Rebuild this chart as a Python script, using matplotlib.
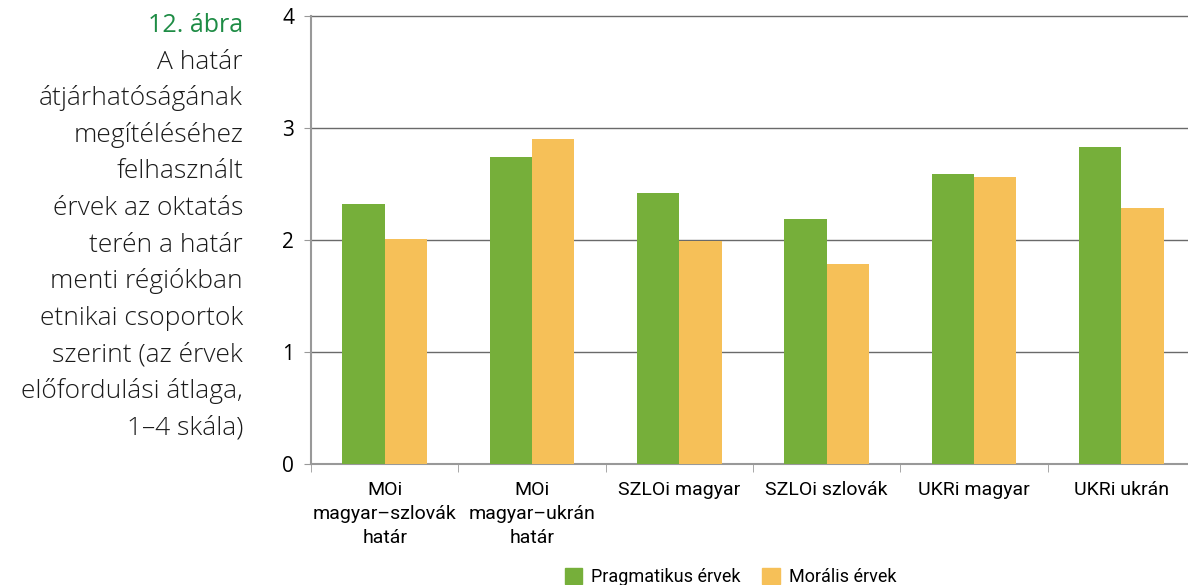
import matplotlib
matplotlib.use('Agg')
import matplotlib.pyplot as plt
import matplotlib.patches as mpatches
import numpy as np

categories = ['MOi\nmagyar–szlovák\nhatár', 'MOi\nmagyar–ukrán\nhatár', 'SZLOi magyar',
              'SZLOi szlovák', 'UKRi magyar', 'UKRi ukrán']
pragmatikus = [2.32, 2.74, 2.42, 2.19, 2.59, 2.83]
moralis = [2.01, 2.90, 1.99, 1.79, 2.56, 2.29]
series_names = ['Pragmatikus érvek', 'Morális érvek']
yticks = [0, 1, 2, 3, 4]

title_num = '12. ábra'
title_lines = ['A határ', 'átjárhatóságának', 'megítéléséhez', 'felhasznált',
               'érvek az oktatás', 'terén a határ', 'menti régiókban',
               'etnikai csoportok', 'szerint (az érvek', 'előfordulási átlaga,',
               '1–4 skála)']

green = '#76AF3A'
orange = '#F6C058'
label_font = ['Roboto', 'DejaVu Sans']
caption_font = ['Open Sans', 'DejaVu Sans']

fig = plt.figure(figsize=(11.88, 5.85), dpi=100)
# plot area runs a little past the right edge of the picture
ax = fig.add_axes([311 / 1188, 1 - 464 / 585, (1195 - 311) / 1188, (464 - 16) / 585])

x = np.arange(len(categories))
w = 0.288
ax.bar(x - w / 2, pragmatikus, width=w, color=green, zorder=3)
ax.bar(x + w / 2, moralis, width=w, color=orange, zorder=3)

ax.set_xlim(-0.5, len(categories) - 0.5)
ax.set_ylim(0, 4)
ax.set_yticks(yticks)
for t in yticks[1:]:
    ax.axhline(t, color='#6a6a6a', lw=1.0, zorder=1, clip_on=False)

ax.set_xticks(x)
ax.set_xticklabels(categories, family=label_font, fontsize=14, linespacing=1.45)
ax.set_xticks(np.arange(len(categories) + 1) - 0.5, minor=True)
ax.tick_params(axis='x', which='major', length=0, pad=12)
ax.tick_params(axis='x', which='minor', length=6, color='#999999', direction='out')
ax.tick_params(axis='y', length=5, color='#999999', pad=7)
for lab in ax.get_yticklabels():
    lab.set_family(caption_font)
    lab.set_fontsize(15)

for s in ['top', 'right']:
    ax.spines[s].set_visible(False)
ax.spines['left'].set_color('#999999')
ax.spines['bottom'].set_color('#999999')
ax.spines['left'].set_linewidth(1.5)
ax.spines['bottom'].set_linewidth(1.5)

# side caption, right aligned
x_right = 243 / 1188
fig.text(x_right, 1 - 32 / 585, title_num, ha='right', va='baseline', fontsize=18,
         color='#1E8C45', family=caption_font)
for i, line in enumerate(title_lines):
    y = 32 + 36.6 * (i + 1)
    fig.text(x_right, 1 - y / 585, line, ha='right', va='baseline', fontsize=19,
             color='#1a1a1a', family=caption_font, weight='light')

handles = [mpatches.Patch(color=green, label=series_names[0]),
           mpatches.Patch(color=orange, label=series_names[1])]
fig.legend(handles=handles, loc='lower center', bbox_to_anchor=(0.615, -0.03), ncol=2,
           frameon=False, prop={'family': label_font, 'size': 13},
           handlelength=0.95, handleheight=0.95, handletextpad=0.5, columnspacing=1.2)

fig.savefig('out.png', dpi=100)
